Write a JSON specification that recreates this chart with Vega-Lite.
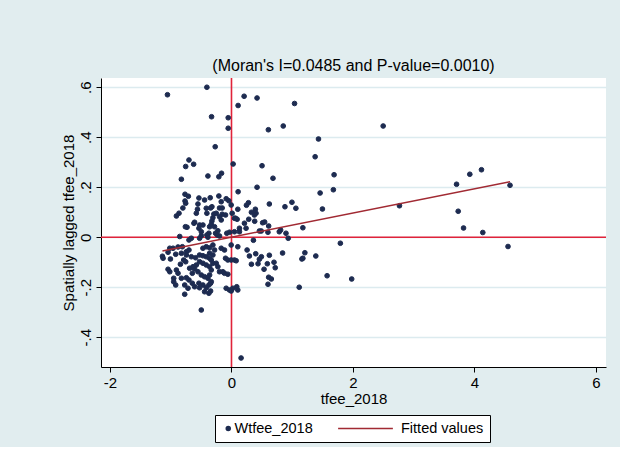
{
  "$schema": "https://vega.github.io/schema/vega-lite/v6.json",
  "width": 505,
  "height": 289,
  "autosize": {"type": "none"},
  "padding": {"left": 101, "top": 78, "right": 14, "bottom": 80},
  "background": "#e1edef",
  "title": {"text": "(Moran's I=0.0485 and P-value=0.0010)", "font": "Liberation Sans", "fontSize": 16, "fontWeight": "normal", "color": "#000000", "offset": 3},
  "config": {
    "view": {"fill": "white", "stroke": null},
    "font": "Liberation Sans"
  },
  "datasets": {
    "points": [
      {"tfee_2018": -1.054, "Wtfee_2018": 0.570}, {"tfee_2018": -0.405, "Wtfee_2018": 0.600}, {"tfee_2018": 0.208, "Wtfee_2018": 0.564},
      {"tfee_2018": 0.421, "Wtfee_2018": 0.557}, {"tfee_2018": 0.109, "Wtfee_2018": 0.527}, {"tfee_2018": 1.038, "Wtfee_2018": 0.535},
      {"tfee_2018": -0.328, "Wtfee_2018": 0.482}, {"tfee_2018": -0.054, "Wtfee_2018": 0.478}, {"tfee_2018": -0.054, "Wtfee_2018": 0.436},
      {"tfee_2018": 0.607, "Wtfee_2018": 0.430}, {"tfee_2018": 0.852, "Wtfee_2018": 0.445}, {"tfee_2018": 1.432, "Wtfee_2018": 0.393},
      {"tfee_2018": -0.268, "Wtfee_2018": 0.362}, {"tfee_2018": -0.700, "Wtfee_2018": 0.309}, {"tfee_2018": -0.623, "Wtfee_2018": 0.292},
      {"tfee_2018": -0.754, "Wtfee_2018": 0.283}, {"tfee_2018": 0.027, "Wtfee_2018": 0.293}, {"tfee_2018": 1.377, "Wtfee_2018": 0.322},
      {"tfee_2018": 0.503, "Wtfee_2018": 0.286}, {"tfee_2018": -0.825, "Wtfee_2018": 0.232}, {"tfee_2018": -0.388, "Wtfee_2018": 0.245},
      {"tfee_2018": -0.208, "Wtfee_2018": 0.242}, {"tfee_2018": -0.164, "Wtfee_2018": 0.256}, {"tfee_2018": 0.683, "Wtfee_2018": 0.236},
      {"tfee_2018": 0.109, "Wtfee_2018": 0.182}, {"tfee_2018": 0.421, "Wtfee_2018": 0.200}, {"tfee_2018": 1.459, "Wtfee_2018": 0.177},
      {"tfee_2018": -0.765, "Wtfee_2018": 0.172}, {"tfee_2018": -0.710, "Wtfee_2018": 0.164}, {"tfee_2018": -0.536, "Wtfee_2018": 0.157},
      {"tfee_2018": -0.350, "Wtfee_2018": 0.158}, {"tfee_2018": -0.208, "Wtfee_2018": 0.165}, {"tfee_2018": -0.087, "Wtfee_2018": 0.154},
      {"tfee_2018": -0.044, "Wtfee_2018": 0.146}, {"tfee_2018": -0.005, "Wtfee_2018": 0.129}, {"tfee_2018": -0.765, "Wtfee_2018": 0.145},
      {"tfee_2018": -0.754, "Wtfee_2018": 0.136}, {"tfee_2018": 0.623, "Wtfee_2018": 0.133}, {"tfee_2018": 0.995, "Wtfee_2018": 0.140},
      {"tfee_2018": 0.880, "Wtfee_2018": 0.122}, {"tfee_2018": 0.279, "Wtfee_2018": 0.138}, {"tfee_2018": 0.246, "Wtfee_2018": 0.128},
      {"tfee_2018": 1.060, "Wtfee_2018": 0.116}, {"tfee_2018": 1.497, "Wtfee_2018": 0.113}, {"tfee_2018": -0.800, "Wtfee_2018": 0.117},
      {"tfee_2018": -0.560, "Wtfee_2018": 0.112}, {"tfee_2018": -0.344, "Wtfee_2018": 0.117}, {"tfee_2018": -0.197, "Wtfee_2018": 0.117},
      {"tfee_2018": -0.153, "Wtfee_2018": 0.117}, {"tfee_2018": 0.393, "Wtfee_2018": 0.112}, {"tfee_2018": 1.689, "Wtfee_2018": 0.250},
      {"tfee_2018": 1.677, "Wtfee_2018": 0.190}, {"tfee_2018": 2.765, "Wtfee_2018": 0.126}, {"tfee_2018": 0.328, "Wtfee_2018": 0.100},
      {"tfee_2018": 0.404, "Wtfee_2018": 0.096}, {"tfee_2018": 0.382, "Wtfee_2018": 0.064}, {"tfee_2018": 0.546, "Wtfee_2018": 0.061},
      {"tfee_2018": 0.612, "Wtfee_2018": 0.045}, {"tfee_2018": 0.600, "Wtfee_2018": 0.020}, {"tfee_2018": 0.459, "Wtfee_2018": 0.025},
      {"tfee_2018": 0.490, "Wtfee_2018": 0.025}, {"tfee_2018": 0.809, "Wtfee_2018": 0.029}, {"tfee_2018": 1.175, "Wtfee_2018": 0.038},
      {"tfee_2018": 0.361, "Wtfee_2018": -0.012}, {"tfee_2018": 0.934, "Wtfee_2018": -0.004}, {"tfee_2018": 1.792, "Wtfee_2018": -0.024},
      {"tfee_2018": 0.399, "Wtfee_2018": -0.066}, {"tfee_2018": 0.295, "Wtfee_2018": -0.075}, {"tfee_2018": 0.492, "Wtfee_2018": -0.078},
      {"tfee_2018": 0.459, "Wtfee_2018": -0.088}, {"tfee_2018": 0.623, "Wtfee_2018": -0.072}, {"tfee_2018": 0.841, "Wtfee_2018": -0.063},
      {"tfee_2018": 1.208, "Wtfee_2018": -0.062}, {"tfee_2018": 1.159, "Wtfee_2018": -0.087}, {"tfee_2018": 1.175, "Wtfee_2018": -0.084},
      {"tfee_2018": 1.388, "Wtfee_2018": -0.075}, {"tfee_2018": 0.328, "Wtfee_2018": -0.108}, {"tfee_2018": 0.437, "Wtfee_2018": -0.106},
      {"tfee_2018": 0.590, "Wtfee_2018": -0.106}, {"tfee_2018": 0.700, "Wtfee_2018": -0.100}, {"tfee_2018": 0.720, "Wtfee_2018": -0.122},
      {"tfee_2018": 0.536, "Wtfee_2018": -0.128}, {"tfee_2018": 0.612, "Wtfee_2018": -0.160}, {"tfee_2018": 0.656, "Wtfee_2018": -0.167},
      {"tfee_2018": 1.574, "Wtfee_2018": -0.154}, {"tfee_2018": 1.979, "Wtfee_2018": -0.167}, {"tfee_2018": 0.601, "Wtfee_2018": -0.188},
      {"tfee_2018": 1.115, "Wtfee_2018": -0.200}, {"tfee_2018": 2.497, "Wtfee_2018": 0.445}, {"tfee_2018": 3.705, "Wtfee_2018": 0.212},
      {"tfee_2018": 3.923, "Wtfee_2018": 0.252}, {"tfee_2018": 4.115, "Wtfee_2018": 0.270}, {"tfee_2018": 4.585, "Wtfee_2018": 0.208},
      {"tfee_2018": 3.732, "Wtfee_2018": 0.104}, {"tfee_2018": 3.820, "Wtfee_2018": 0.037}, {"tfee_2018": 4.137, "Wtfee_2018": 0.019},
      {"tfee_2018": 4.552, "Wtfee_2018": -0.037}, {"tfee_2018": -0.864, "Wtfee_2018": 0.096}, {"tfee_2018": -0.579, "Wtfee_2018": 0.096},
      {"tfee_2018": -0.153, "Wtfee_2018": 0.092}, {"tfee_2018": -0.098, "Wtfee_2018": 0.089}, {"tfee_2018": 0.011, "Wtfee_2018": 0.096},
      {"tfee_2018": 0.049, "Wtfee_2018": 0.076}, {"tfee_2018": 0.093, "Wtfee_2018": 0.072}, {"tfee_2018": -0.405, "Wtfee_2018": 0.096},
      {"tfee_2018": -0.290, "Wtfee_2018": 0.093}, {"tfee_2018": -0.306, "Wtfee_2018": 0.078}, {"tfee_2018": -0.322, "Wtfee_2018": 0.065},
      {"tfee_2018": -0.607, "Wtfee_2018": 0.060}, {"tfee_2018": -0.525, "Wtfee_2018": 0.049}, {"tfee_2018": -0.470, "Wtfee_2018": 0.049},
      {"tfee_2018": -0.732, "Wtfee_2018": 0.040}, {"tfee_2018": -0.360, "Wtfee_2018": 0.042}, {"tfee_2018": -0.333, "Wtfee_2018": 0.052},
      {"tfee_2018": 0.284, "Wtfee_2018": 0.072}, {"tfee_2018": 0.131, "Wtfee_2018": 0.036}, {"tfee_2018": 0.131, "Wtfee_2018": 0.022},
      {"tfee_2018": -0.033, "Wtfee_2018": 0.020}, {"tfee_2018": -0.077, "Wtfee_2018": 0.016}, {"tfee_2018": -0.224, "Wtfee_2018": 0.026},
      {"tfee_2018": -0.262, "Wtfee_2018": 0.016}, {"tfee_2018": -0.235, "Wtfee_2018": 0.009}, {"tfee_2018": -0.197, "Wtfee_2018": 0.005},
      {"tfee_2018": -0.372, "Wtfee_2018": 0.016}, {"tfee_2018": -0.405, "Wtfee_2018": 0.009}, {"tfee_2018": -0.388, "Wtfee_2018": 0.000},
      {"tfee_2018": -0.497, "Wtfee_2018": 0.006}, {"tfee_2018": -0.525, "Wtfee_2018": -0.004}, {"tfee_2018": -0.661, "Wtfee_2018": -0.004},
      {"tfee_2018": -0.700, "Wtfee_2018": -0.011}, {"tfee_2018": -0.852, "Wtfee_2018": 0.003}, {"tfee_2018": -0.005, "Wtfee_2018": -0.031},
      {"tfee_2018": 0.104, "Wtfee_2018": -0.038}, {"tfee_2018": -1.126, "Wtfee_2018": -0.084}, {"tfee_2018": -1.137, "Wtfee_2018": -0.076},
      {"tfee_2018": -1.005, "Wtfee_2018": -0.087}, {"tfee_2018": -0.962, "Wtfee_2018": -0.044}, {"tfee_2018": -0.880, "Wtfee_2018": -0.039},
      {"tfee_2018": -0.809, "Wtfee_2018": -0.038}, {"tfee_2018": -0.918, "Wtfee_2018": -0.068}, {"tfee_2018": -0.825, "Wtfee_2018": -0.064},
      {"tfee_2018": -0.743, "Wtfee_2018": -0.058}, {"tfee_2018": -0.700, "Wtfee_2018": -0.051}, {"tfee_2018": -0.787, "Wtfee_2018": -0.091},
      {"tfee_2018": -0.754, "Wtfee_2018": -0.098}, {"tfee_2018": -0.841, "Wtfee_2018": -0.108}, {"tfee_2018": -1.044, "Wtfee_2018": -0.128},
      {"tfee_2018": -1.016, "Wtfee_2018": -0.138}, {"tfee_2018": -0.907, "Wtfee_2018": -0.131}, {"tfee_2018": -0.880, "Wtfee_2018": -0.144},
      {"tfee_2018": -0.951, "Wtfee_2018": -0.178}, {"tfee_2018": -0.918, "Wtfee_2018": -0.191}, {"tfee_2018": -0.770, "Wtfee_2018": -0.228},
      {"tfee_2018": -0.825, "Wtfee_2018": -0.164}, {"tfee_2018": -0.743, "Wtfee_2018": -0.162}, {"tfee_2018": -0.700, "Wtfee_2018": -0.171},
      {"tfee_2018": -0.645, "Wtfee_2018": -0.144}, {"tfee_2018": -0.607, "Wtfee_2018": -0.127}, {"tfee_2018": -0.552, "Wtfee_2018": -0.138},
      {"tfee_2018": -0.497, "Wtfee_2018": -0.151}, {"tfee_2018": -0.443, "Wtfee_2018": -0.158}, {"tfee_2018": -0.388, "Wtfee_2018": -0.164},
      {"tfee_2018": -0.333, "Wtfee_2018": -0.178}, {"tfee_2018": -0.372, "Wtfee_2018": -0.191}, {"tfee_2018": -0.344, "Wtfee_2018": -0.215},
      {"tfee_2018": -0.536, "Wtfee_2018": -0.184}, {"tfee_2018": -0.470, "Wtfee_2018": -0.191}, {"tfee_2018": -0.525, "Wtfee_2018": -0.202},
      {"tfee_2018": -0.645, "Wtfee_2018": -0.184}, {"tfee_2018": -0.607, "Wtfee_2018": -0.198}, {"tfee_2018": -0.497, "Wtfee_2018": -0.291},
      {"tfee_2018": -0.743, "Wtfee_2018": -0.071}, {"tfee_2018": -0.661, "Wtfee_2018": -0.078}, {"tfee_2018": -0.590, "Wtfee_2018": -0.082},
      {"tfee_2018": -0.525, "Wtfee_2018": -0.071}, {"tfee_2018": -0.470, "Wtfee_2018": -0.074}, {"tfee_2018": -0.415, "Wtfee_2018": -0.078},
      {"tfee_2018": -0.360, "Wtfee_2018": -0.084}, {"tfee_2018": -0.525, "Wtfee_2018": -0.098}, {"tfee_2018": -0.470, "Wtfee_2018": -0.104},
      {"tfee_2018": -0.415, "Wtfee_2018": -0.111}, {"tfee_2018": -0.360, "Wtfee_2018": -0.118}, {"tfee_2018": -0.579, "Wtfee_2018": -0.111},
      {"tfee_2018": -0.634, "Wtfee_2018": -0.118}, {"tfee_2018": -0.689, "Wtfee_2018": -0.124}, {"tfee_2018": -0.470, "Wtfee_2018": -0.044},
      {"tfee_2018": -0.415, "Wtfee_2018": -0.038}, {"tfee_2018": -0.360, "Wtfee_2018": -0.042}, {"tfee_2018": -0.306, "Wtfee_2018": -0.031},
      {"tfee_2018": -0.279, "Wtfee_2018": -0.051}, {"tfee_2018": -0.360, "Wtfee_2018": -0.064}, {"tfee_2018": -0.306, "Wtfee_2018": -0.071},
      {"tfee_2018": -0.333, "Wtfee_2018": -0.091}, {"tfee_2018": -0.306, "Wtfee_2018": -0.104}, {"tfee_2018": -0.333, "Wtfee_2018": -0.131},
      {"tfee_2018": -0.360, "Wtfee_2018": -0.151}, {"tfee_2018": -0.197, "Wtfee_2018": -0.138}, {"tfee_2018": -0.115, "Wtfee_2018": -0.144},
      {"tfee_2018": -0.060, "Wtfee_2018": -0.148}, {"tfee_2018": -0.169, "Wtfee_2018": -0.044}, {"tfee_2018": -0.115, "Wtfee_2018": -0.051},
      {"tfee_2018": -0.098, "Wtfee_2018": -0.084}, {"tfee_2018": -0.060, "Wtfee_2018": -0.091}, {"tfee_2018": -0.005, "Wtfee_2018": -0.091},
      {"tfee_2018": 0.049, "Wtfee_2018": -0.091}, {"tfee_2018": 0.257, "Wtfee_2018": -0.051}, {"tfee_2018": -0.087, "Wtfee_2018": -0.204},
      {"tfee_2018": -0.033, "Wtfee_2018": -0.211}, {"tfee_2018": 0.022, "Wtfee_2018": -0.204}, {"tfee_2018": 0.087, "Wtfee_2018": -0.198},
      {"tfee_2018": 0.104, "Wtfee_2018": -0.211}, {"tfee_2018": -0.005, "Wtfee_2018": -0.215}, {"tfee_2018": -1.016, "Wtfee_2018": -0.044},
      {"tfee_2018": -1.044, "Wtfee_2018": -0.060}, {"tfee_2018": -0.951, "Wtfee_2018": -0.164}, {"tfee_2018": -0.251, "Wtfee_2018": -0.104},
      {"tfee_2018": -0.224, "Wtfee_2018": -0.118}, {"tfee_2018": -0.344, "Wtfee_2018": -0.184}, {"tfee_2018": -0.415, "Wtfee_2018": -0.202},
      {"tfee_2018": -0.443, "Wtfee_2018": -0.218}, {"tfee_2018": -0.372, "Wtfee_2018": -0.224}, {"tfee_2018": -0.770, "Wtfee_2018": -0.191},
      {"tfee_2018": -0.716, "Wtfee_2018": -0.204}, {"tfee_2018": 0.158, "Wtfee_2018": -0.483}, {"tfee_2018": -0.907, "Wtfee_2018": 0.085},
      {"tfee_2018": -0.552, "Wtfee_2018": 0.133}, {"tfee_2018": -0.443, "Wtfee_2018": 0.149}, {"tfee_2018": -0.415, "Wtfee_2018": 0.116},
      {"tfee_2018": -0.322, "Wtfee_2018": 0.122}, {"tfee_2018": -0.169, "Wtfee_2018": 0.142}, {"tfee_2018": -0.759, "Wtfee_2018": 0.042},
      {"tfee_2018": -0.618, "Wtfee_2018": 0.056}, {"tfee_2018": -0.536, "Wtfee_2018": 0.036}, {"tfee_2018": -0.497, "Wtfee_2018": 0.022},
      {"tfee_2018": -0.279, "Wtfee_2018": 0.042}, {"tfee_2018": -0.251, "Wtfee_2018": 0.096}, {"tfee_2018": -0.197, "Wtfee_2018": 0.082},
      {"tfee_2018": -0.169, "Wtfee_2018": 0.069}, {"tfee_2018": 0.104, "Wtfee_2018": 0.112}, {"tfee_2018": 0.066, "Wtfee_2018": 0.076},
      {"tfee_2018": 0.213, "Wtfee_2018": 0.056}, {"tfee_2018": 0.240, "Wtfee_2018": 0.036}, {"tfee_2018": 0.049, "Wtfee_2018": 0.022},
      {"tfee_2018": 0.377, "Wtfee_2018": 0.089}, {"tfee_2018": 0.513, "Wtfee_2018": 0.058}, {"tfee_2018": 0.787, "Wtfee_2018": 0.022},
      {"tfee_2018": 0.897, "Wtfee_2018": 0.016}, {"tfee_2018": 0.077, "Wtfee_2018": -0.094}, {"tfee_2018": -0.142, "Wtfee_2018": -0.138}
    ],
    "fitted": [
      {"tfee_2018": -1.137, "fitted": -0.0551},
      {"tfee_2018": 4.585, "fitted": 0.2224}
    ],
    "reference": [{"zero": 0}]
  },
  "layer": [
    {
      "data": {"name": "reference"},
      "mark": {"type": "rule", "color": "#e0233a", "strokeWidth": 1.6},
      "encoding": {"y": {"field": "zero", "type": "quantitative", "title": "Spatially lagged tfee_2018"}}
    },
    {
      "data": {"name": "reference"},
      "mark": {"type": "rule", "color": "#e0233a", "strokeWidth": 1.6},
      "encoding": {"x": {"field": "zero", "type": "quantitative", "title": "tfee_2018"}}
    },
    {
      "data": {"name": "points"},
      "mark": {"type": "circle", "fill": "#1d2b50", "opacity": 1, "size": 22, "strokeWidth": 1},
      "encoding": {
        "x": {
          "field": "tfee_2018", "type": "quantitative", "title": "tfee_2018",
          "scale": {"domain": [-2.148, 6.165], "nice": false, "zero": false},
          "axis": {
            "values": [-2, 0, 2, 4, 6], "labelExpr": "'' + datum.value", "grid": false,
            "domainColor": "#000000", "domainWidth": 1, "tickColor": "#000000", "tickSize": 5, "tickWidth": 1,
            "labelFont": "Liberation Sans", "labelFontSize": 15, "labelColor": "#000000", "labelPadding": 3,
            "titleFont": "Liberation Sans", "titleFontSize": 15, "titleFontWeight": "normal", "titleColor": "#000000", "titlePadding": 1
          }
        },
        "y": {
          "field": "Wtfee_2018", "type": "quantitative", "title": "Spatially lagged tfee_2018",
          "scale": {"domain": [-0.519, 0.637], "nice": false, "zero": false},
          "axis": {
            "values": [-0.4, -0.2, 0, 0.2, 0.4, 0.6],
            "labelExpr": "datum.value == 0 ? '0' : replace('' + datum.value, '0.', '.')",
            "grid": true, "gridColor": "#dcebef", "gridWidth": 1.5,
            "domainColor": "#000000", "domainWidth": 1, "tickColor": "#000000", "tickSize": 5, "tickWidth": 1,
            "labelAngle": 270, "labelAlign": "center", "labelBaseline": "bottom",
            "labelFont": "Liberation Sans", "labelFontSize": 15, "labelColor": "#000000", "labelPadding": 3,
            "titleFont": "Liberation Sans", "titleFontSize": 15, "titleFontWeight": "normal", "titleColor": "#000000", "titlePadding": 2
          }
        },
        "stroke": {
          "datum": "Wtfee_2018", "type": "nominal",
          "scale": {"domain": ["Wtfee_2018", "Fitted values"], "range": ["#1d2b50", "#a12a33"]},
          "legend": {
            "title": null, "orient": "none", "direction": "horizontal",
            "legendX": 114, "legendY": 337,
            "fillColor": "#ffffff", "strokeColor": "#000000", "padding": 6,
            "labelFont": "Liberation Sans", "labelFontSize": 14.5, "labelColor": "#000000",
            "labelOffset": {"expr": "(datum.value || datum) === 'Fitted values' ? 7 : -1"},
            "columnPadding": 24, "clipHeight": 15,
            "symbolType": {"expr": "(datum.value || datum) === 'Fitted values' ? 'stroke' : 'circle'"},
            "symbolSize": {"expr": "(datum.value || datum) === 'Fitted values' ? 3000 : 16"},
            "symbolStrokeWidth": 1.5,
            "symbolOpacity": 1
          }
        }
      }
    },
    {
      "data": {"name": "fitted"},
      "mark": {"type": "line", "strokeWidth": 1.5, "color": "#a12a33"},
      "encoding": {
        "x": {"field": "tfee_2018", "type": "quantitative", "title": "tfee_2018"},
        "y": {"field": "fitted", "type": "quantitative", "title": "Spatially lagged tfee_2018"}
      }
    }
  ]
}
